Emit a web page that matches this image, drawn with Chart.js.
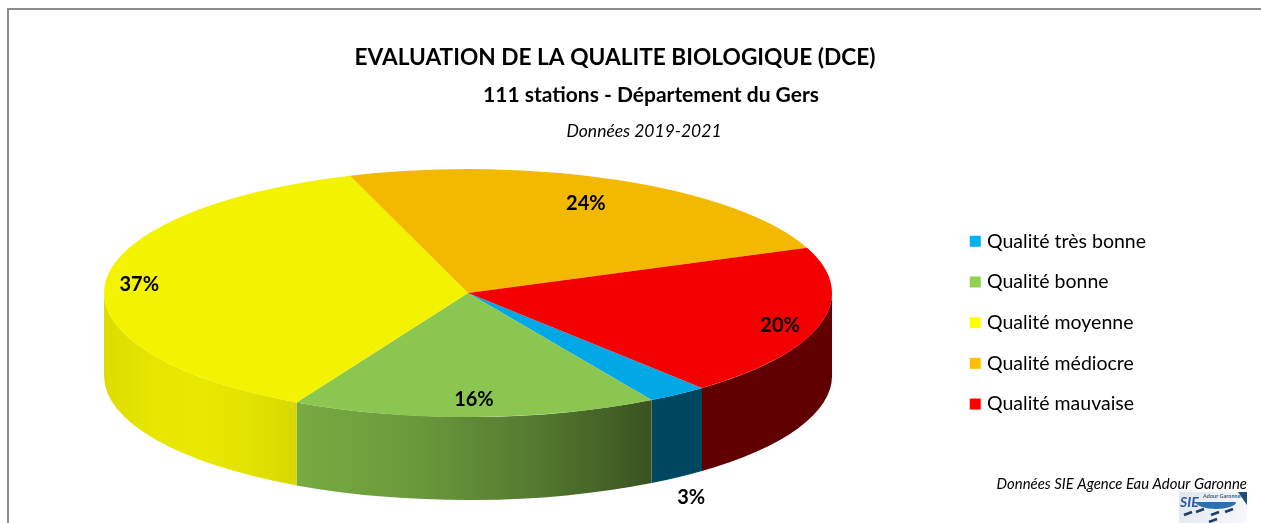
<!DOCTYPE html>
<html lang="fr">
<head>
<meta charset="utf-8">
<title>Qualité biologique</title>
<script src="https://cdn.jsdelivr.net/npm/chart.js@4"></script>
<style>
  html, body { margin: 0; padding: 0; background: #fff; overflow: hidden; }
  canvas { display: block; }
</style>
</head>
<body>
<canvas id="pie" width="1261" height="523"></canvas>
<script>
// data: station counts out of 111, estimated from slice sizes and the printed %
var categories = ["Qualité très bonne", "Qualité bonne", "Qualité moyenne", "Qualité médiocre", "Qualité mauvaise"];
var stations = [3, 18, 41, 27, 22];
var percents = [3, 16, 37, 24, 20];

// colours
var topColors = ["#00a9e6", "#8bc650", "#f3f300", "#f3b800", "#f50000"];
var legendColors = ["#00b0f0", "#92d050", "#ffff00", "#ffc000", "#ff0000"];
var wallColors = [
    ["#004860", "#004860"],
    ["#77ab41", "#6a993b", "#557a30", "#3a5320"],
    ["#dcdc00", "#e6e600", "#e9e900", "#e2e200", "#d8d800"],
    ["#8a6800", "#8a6800"],
    ["#600000", "#600000"]
];

// pie look, 3d tilt
var radius = 364;
var squash = 124 / 364;
var depth = 83;
var startRotation = 140;
// where the % labels sit, as fraction of radius along the middle of the slice
var labelRadius = [1.065, 0.86, 0.906, 0.77, 0.885];
var labelDrop = [97, 0, 1, -3, 5];

function drawWalls(chart) {
    var ctx = chart.ctx;
    var arcs = chart.getDatasetMeta(0).data;
    arcs.forEach(function (arc, i) {
        var p = arc.getProps(["x", "y", "startAngle", "endAngle"], true);
        var ry = radius * squash;
        // keep only the part of the slice that faces the viewer (0..PI)
        for (var k = -1; k <= 1; k++) {
            var a0 = Math.max(p.startAngle + k * 2 * Math.PI, 0);
            var a1 = Math.min(p.endAngle + k * 2 * Math.PI, Math.PI);
            if (a1 <= a0) continue;
            var x0 = p.x + radius * Math.cos(a0);
            var x1 = p.x + radius * Math.cos(a1);
            var g = ctx.createLinearGradient(Math.min(x0, x1), 0, Math.max(x0, x1), 0);
            wallColors[i].forEach(function (c, n) {
                g.addColorStop(n / (wallColors[i].length - 1), c);
            });
            ctx.beginPath();
            ctx.ellipse(p.x, p.y, radius, ry, 0, a0, a1);
            ctx.ellipse(p.x, p.y + depth, radius, ry, 0, a1, a0, true);
            ctx.closePath();
            ctx.fillStyle = g;
            ctx.fill();
        }
    });
}

function drawPercents(chart) {
    var ctx = chart.ctx;
    ctx.fillStyle = "#000";
    ctx.font = "bold 20px Lato";
    ctx.textAlign = "center";
    ctx.textBaseline = "middle";
    chart.getDatasetMeta(0).data.forEach(function (arc, i) {
        var p = arc.getProps(["x", "y", "startAngle", "endAngle"], true);
        var mid = (p.startAngle + p.endAngle) / 2;
        var r = radius * labelRadius[i];
        var x = p.x + r * Math.cos(mid);
        var y = p.y + r * squash * Math.sin(mid) + labelDrop[i];
        ctx.fillText(percents[i] + "%", x, y);
    });
}

function drawText(ctx, text, x, y, font, align) {
    ctx.fillStyle = "#000";
    ctx.font = font;
    ctx.textAlign = align;
    ctx.textBaseline = "middle";
    ctx.fillText(text, x, y);
}

function drawLogo(chart) {
    var ctx = chart.ctx;
    var g = ctx.createLinearGradient(1179, 492, 1247, 523);
    g.addColorStop(0, "#dfe7ef");
    g.addColorStop(1, "#f7f9fb");
    ctx.fillStyle = g;
    ctx.fillRect(1179, 492, 68, 31);
    ctx.fillStyle = "#1f4e79";
    ctx.beginPath();
    ctx.moveTo(1238, 492);
    ctx.lineTo(1247, 492);
    ctx.lineTo(1247, 505);
    ctx.closePath();
    ctx.fill();
    ctx.fillStyle = "#2c5aa0";
    ctx.font = "italic bold 14px Lato";
    ctx.textAlign = "left";
    ctx.textBaseline = "middle";
    ctx.fillText("SIE", 1180, 502);
    ctx.fillStyle = "#34608f";
    ctx.font = "bold 5.5px Lato";
    ctx.fillText("Adour Garonne", 1203, 496);
    ctx.fillStyle = "#2f6fb0";
    ctx.beginPath();
    ctx.ellipse(1216, 502, 20, 7, 0, 0, Math.PI);
    ctx.fill();
    ctx.strokeStyle = "#1b3f6b";
    ctx.lineWidth = 2.5;
    [[1184, 515], [1196, 512], [1211, 515], [1225, 512], [1209, 522]].forEach(function (w) {
        ctx.beginPath();
        ctx.moveTo(w[0], w[1]);
        ctx.lineTo(w[0] + 8, w[1] - 3);
        ctx.stroke();
    });
}

var pie3d = {
    id: "pie3d",
    afterLayout: function (c) {
        // the legend pushes the pie centre too far right, negative padding does nothing
        c.chartArea.left = -16;
    },
    beforeDatasetsDraw: function (c) {
        var ctx = c.ctx;
        var arc = c.getDatasetMeta(0).data[0];
        drawWalls(c);
        ctx.save();
        ctx.translate(arc.x, arc.y);
        ctx.scale(1, squash);
        ctx.translate(-arc.x, -arc.y);
    },
    afterDatasetsDraw: function (c) {
        c.ctx.restore();
    },
    afterDraw: function (c) {
        var ctx = c.ctx;
        // frame
        ctx.fillStyle = "#8c8c8c";
        ctx.fillRect(7, 8, 1254, 2);
        ctx.fillRect(7, 8, 2, 515);
        drawPercents(c);
        drawText(ctx, "EVALUATION DE LA QUALITE BIOLOGIQUE (DCE)", 615, 58, "bold 22.7px Lato", "center");
        drawText(ctx, "111 stations - Département du Gers", 651, 95, "bold 21px Lato", "center");
        drawText(ctx, "Données 2019-2021", 644, 131, "italic 17.5px Lato", "center");
        drawText(ctx, "Données SIE Agence Eau Adour Garonne", 1247, 484, "italic 14.9px Lato", "right");
        drawLogo(c);
    }
};

new Chart(document.getElementById("pie"), {
    type: "pie",
    plugins: [pie3d],
    data: {
        labels: categories,
        datasets: [{
            data: stations,
            backgroundColor: topColors,
            borderWidth: 0,
            clip: false
        }]
    },
    options: {
        responsive: false,
        animation: false,
        radius: radius,
        rotation: startRotation,
        layout: { padding: { left: 0, right: 105, top: 151, bottom: 88 } },
        plugins: {
            title: { display: false },
            tooltip: { enabled: false },
            legend: {
                position: "right",
                align: "end",
                labels: {
                    color: "#222",
                    font: { family: "Lato", size: 19.5 },
                    boxWidth: 4,
                    boxHeight: 4,
                    padding: 21.2,
                    generateLabels: function () {
                        return categories.map(function (name, i) {
                            return { text: name, fillStyle: legendColors[i], strokeStyle: legendColors[i], lineWidth: 7, index: i };
                        });
                    }
                }
            }
        }
    }
});
</script>
</body>
</html>
